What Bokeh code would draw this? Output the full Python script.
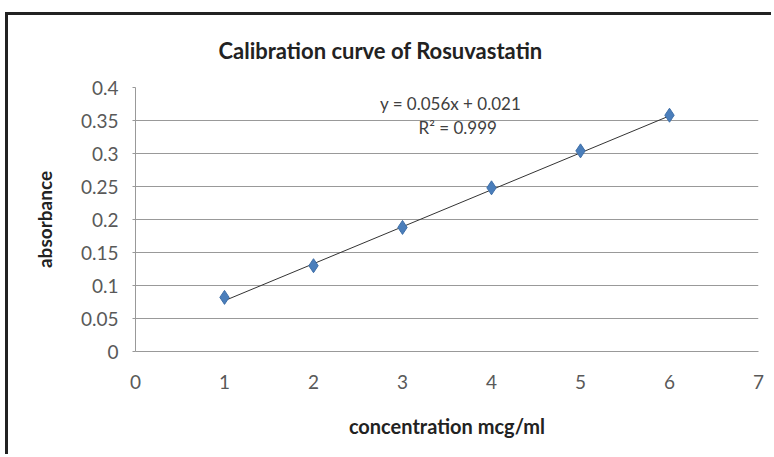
from bokeh.plotting import figure
from bokeh.models import Range1d, Label, FixedTicker, Title
from bokeh.embed import file_html
from bokeh.resources import INLINE
import numpy as np

# data
conc = [1, 2, 3, 4, 5, 6]
absorb = [0.082, 0.130, 0.188, 0.248, 0.304, 0.358]
slope = 0.056
intercept = 0.021
r2 = 0.999
x_ticks = [0, 1, 2, 3, 4, 5, 6, 7]
y_ticks = [0, 0.05, 0.1, 0.15, 0.2, 0.25, 0.3, 0.35, 0.4]

FONT = "Lato"

p = figure(width=766, height=442, output_backend="svg", toolbar_location=None,
           x_range=Range1d(0, 7), y_range=Range1d(0, 0.4),
           min_border_left=127, min_border_right=16, min_border_top=72, min_border_bottom=106)
p.styles = {"border-left": "3px solid #222222", "border-top": "3px solid #222222",
            "margin-left": "5px", "margin-top": "12px"}

p.title = Title(text="Calibration curve of Rosuvastatin", align="left", offset=83,
                text_font=FONT, text_font_size="22px", text_color="#222222",
                text_font_style="bold", standoff=43, vertical_align="top")

p.outline_line_color = None
p.xgrid.grid_line_color = None
p.ygrid.grid_line_color = "#999999"
p.ygrid.grid_line_width = 1

p.xaxis.ticker = FixedTicker(ticks=x_ticks)
p.yaxis.ticker = FixedTicker(ticks=y_ticks)
p.yaxis.major_label_overrides = {t: f"{t:g}" for t in y_ticks}
for ax in (p.xaxis[0], p.yaxis[0]):
    ax.axis_line_color = "#999999"
    ax.minor_tick_line_color = None
    ax.major_label_text_font = FONT
    ax.major_label_text_font_size = "19px"
    ax.major_label_text_color = "#595959"
    ax.axis_label_text_font = FONT
    ax.axis_label_text_font_style = "bold"
    ax.axis_label_text_color = "#222222"
p.xaxis.axis_label_text_font_size = "20px"
p.yaxis.axis_label_text_font_size = "19px"

p.xaxis.major_tick_line_color = None
p.xaxis.major_label_standoff = 17
p.xaxis.axis_label = "concentration mcg/ml"
p.xaxis.axis_label_standoff = 22
p.yaxis.major_tick_line_color = "#999999"
p.yaxis.major_tick_out = 3
p.yaxis.major_tick_in = 0
p.yaxis.major_label_standoff = 14
p.yaxis.axis_label = "absorbance"
p.yaxis.axis_label_standoff = 22

# trend line from fit equation
xs = np.array([conc[0], conc[-1]], dtype=float)
p.line(xs, slope * xs + intercept, line_color="#333333", line_width=1)
p.scatter(conc, absorb, marker="diamond", size=14, fill_color="#4A7EBB",
          line_color="#3F6FA8", line_width=1)

p.add_layout(Label(x=3.54, y=0.376, text=f"y = {slope}x + {intercept}", text_font=FONT,
                   text_font_size="17px", text_color="#404040", text_align="center",
                   text_baseline="middle"))
p.add_layout(Label(x=3.62, y=0.339, text=f"R² = {r2}", text_font=FONT,
                   text_font_size="17px", text_color="#404040", text_align="center",
                   text_baseline="middle"))

open("out.html", "w").write(file_html(p, INLINE))
